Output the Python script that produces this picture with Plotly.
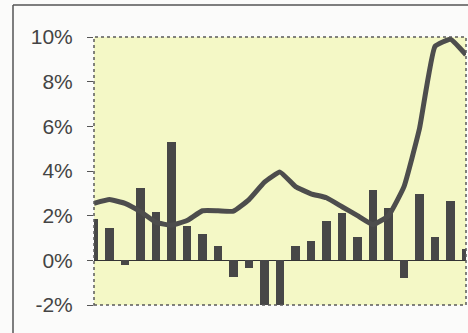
import plotly.graph_objects as go

# Period index along the horizontal axis
periods = list(range(25))

# Period-on-period change (bars), in percent
change = [1.84, 1.44, -0.22, 3.24, 2.15, 5.3, 1.53, 1.2, 0.63, -0.75,
          -0.35, -2.2, -2.2, 0.63, 0.85, 1.75, 2.1, 1.03, 3.15, 2.33,
          -0.8, 2.97, 1.03, 2.65, 0.5]

# Trend rate (line), in percent
trend = [2.55, 2.72, 2.55, 2.18, 1.7, 1.57, 1.78, 2.22, 2.22, 2.2,
         2.72, 3.5, 3.95, 3.3, 2.98, 2.8, 2.4, 2.0, 1.6, 2.0,
         3.3, 5.9, 9.58, 9.9, 9.2]

y_ticks = [-2, 0, 2, 4, 6, 8, 10]
y_tick_text = ["-2%", "0%", "2%", "4%", "6%", "8%", "10%"]

W, H = 468, 333
ML, MR, MT, MB = 94, 2, 37, 28

fig = go.Figure()
fig.add_trace(go.Bar(
    x=periods, y=change, width=0.55,
    marker=dict(color="#474747", line=dict(width=0)),
))
fig.add_trace(go.Scatter(
    x=periods, y=trend, mode="lines",
    line=dict(color="#4d4d4d", width=5, shape="spline", smoothing=0.35),
))

pw, ph = W - ML - MR, H - MT - MB


def px_x(p):
    return (p - ML) / pw


def px_y(p):
    return (H - MB - p) / ph


shapes = [
    # dotted frame around the plotting area
    dict(type="rect", xref="paper", yref="paper", x0=0, x1=1, y0=0, y1=1,
         line=dict(color="#5a5a5a", width=1.5, dash="dot"), layer="above"),
    # outer chart border (top and left edges visible)
    dict(type="line", xref="paper", yref="paper",
         x0=px_x(13), x1=px_x(W + 5), y0=px_y(5), y1=px_y(5),
         line=dict(color="#555555", width=1.5)),
    dict(type="line", xref="paper", yref="paper",
         x0=px_x(13), x1=px_x(13), y0=px_y(5), y1=px_y(H + 5),
         line=dict(color="#555555", width=1.5)),
]

fig.update_layout(
    width=W, height=H,
    margin=dict(l=ML, r=MR, t=MT, b=MB),
    paper_bgcolor="#fbfbfa",
    plot_bgcolor="#f4f8c6",
    showlegend=False,
    bargap=0,
    shapes=shapes,
    font=dict(family="Liberation Sans, Arial, sans-serif", color="#444444"),
    xaxis=dict(range=[0, 24], showticklabels=False, ticks="",
               showgrid=False, zeroline=False, showline=False),
    yaxis=dict(range=[-2, 10], tickvals=y_ticks, ticktext=y_tick_text,
               ticks="outside", ticklen=6, tickcolor="#555555", tickwidth=1,
               ticklabelstandoff=10,
               tickfont=dict(size=21, color="#444444"),
               showgrid=False, showline=False,
               zeroline=True, zerolinecolor="#333333", zerolinewidth=1),
)

fig.write_html("out.html")
